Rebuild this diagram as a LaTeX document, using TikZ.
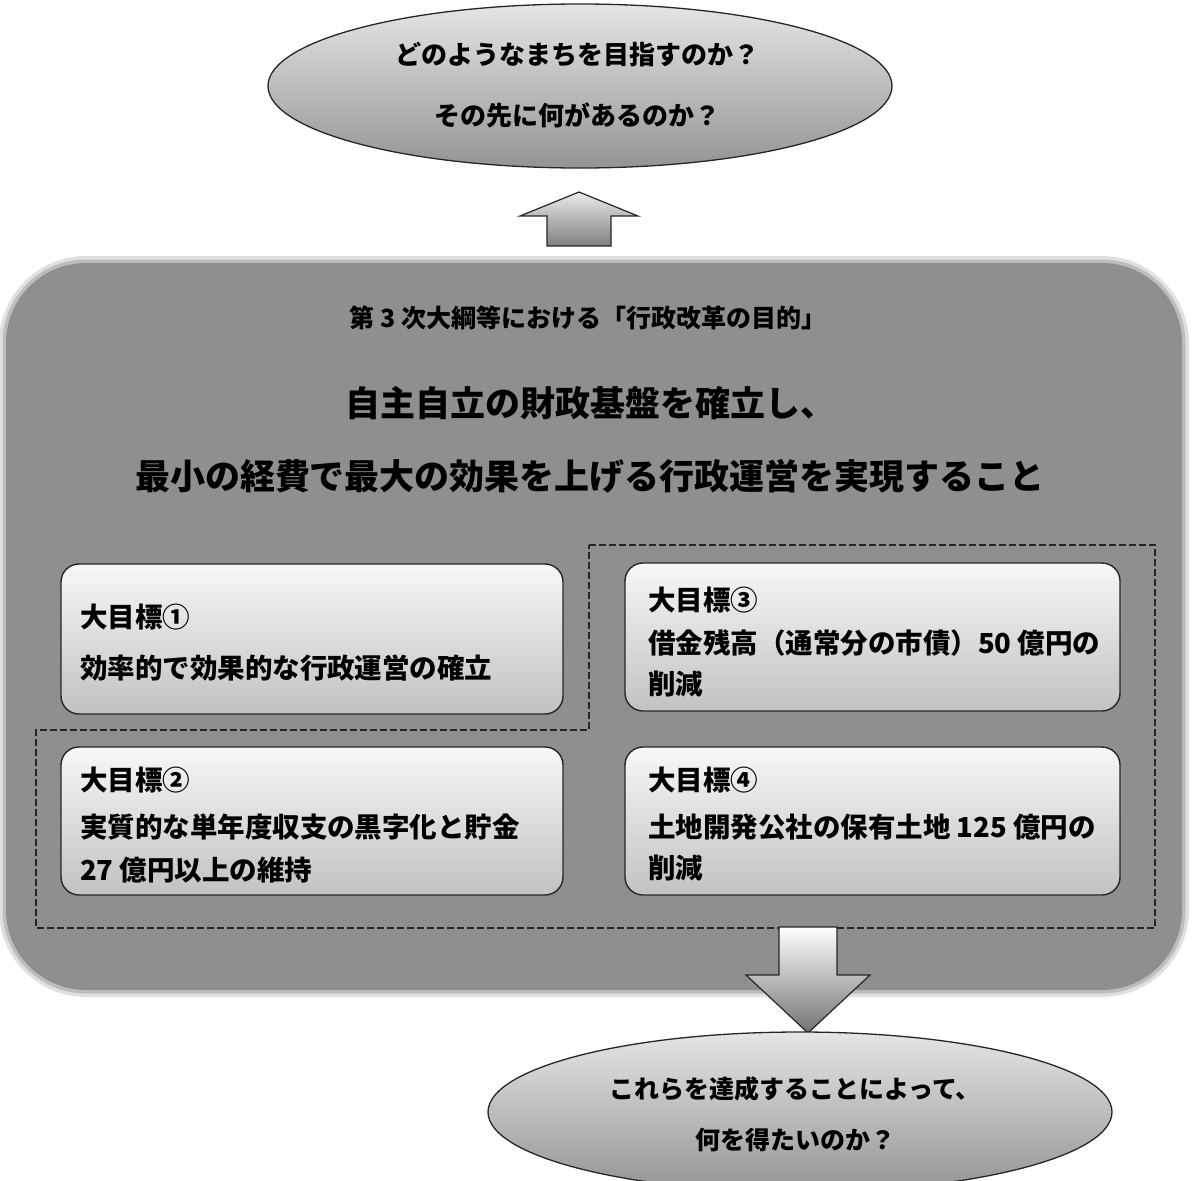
\documentclass[tikz,border=0pt]{standalone}
\usepackage{fontspec}
\newfontfamily\jp{Noto Sans CJK JP}
\usetikzlibrary{shapes.geometric}
\begin{document}
\begin{tikzpicture}[x=1pt,y=-1pt,
  every node/.style={font=\jp, inner sep=0pt, outer sep=0pt},
  bubble/.style={ellipse, draw=black!85, line width=1.3pt, top color=black!10, bottom color=black!42, minimum width=624pt, minimum height=164pt},
  bigbox/.style={rectangle, rounded corners=80pt, fill=black!44, minimum width=1176pt, minimum height=727pt},
  goalbox/.style={rectangle, rounded corners=18pt, draw=black!85, line width=1.4pt, top color=black!3, bottom color=black!24},
  blockarrow/.style={draw=black!85, line width=1.2pt, top color=black!8, bottom color=black!50},
  bubbletxt/.style={font=\jp\bfseries\fontsize{26}{30}\selectfont},
  subtxt/.style={font=\jp\bfseries\fontsize{25}{30}\selectfont},
  maintxt/.style={font=\jp\bfseries\fontsize{35}{40}\selectfont},
  goaltxt/.style={font=\jp\bfseries\fontsize{27.5}{32}\selectfont, anchor=west},
  frameline/.style={dashed, dash pattern=on 7pt off 3pt, line width=1.3pt, draw=black!85}
]
\useasboundingbox (0,0) rectangle (1195,1181);

% big rounded panel with soft edge
\draw[line width=14pt, black!12, rounded corners=80pt] (6,263) rectangle (1182,990);
\draw[line width=7pt, black!26, rounded corners=80pt] (6,263) rectangle (1182,990);
\node[bigbox] (panel) at (594,626.5) {};

% dashed frame around the goals
\draw[frameline] (589,545) -- (1155,545) -- (1155,928) -- (36,928) -- (36,730) -- (589,730) -- cycle;

% header texts
\node[subtxt] (sub) at (588,318) {第 3 次大綱等における「行政改革の目的」};
\node[maintxt] (m1) at (590,403) {自主自立の財政基盤を確立し、};
\node[maintxt] (m2) at (590,476) {最小の経費で最大の効果を上げる行政運営を実現すること};

% goal boxes
\node[goalbox, minimum width=502pt, minimum height=150pt] (g1) at (312,639) {};
\node[goalbox, minimum width=502pt, minimum height=148pt] (g2) at (312,821) {};
\node[goalbox, minimum width=495pt, minimum height=148pt] (g3) at (872.5,637) {};
\node[goalbox, minimum width=495pt, minimum height=148pt] (g4) at (872.5,821) {};

\node[goaltxt] (g1a) at (80,617) {大目標①};
\node[goaltxt] (g1b) at (80,668) {効率的で効果的な行政運営の確立};
\node[goaltxt] (g2a) at (80,780) {大目標②};
\node[goaltxt] (g2b) at (80,827) {実質的な単年度収支の黒字化と貯金};
\node[goaltxt] (g2c) at (80,870) {27 億円以上の維持};
\node[goaltxt] (g3a) at (648,600) {大目標③};
\node[goaltxt] (g3b) at (648,643) {借金残高（通常分の市債）50 億円の};
\node[goaltxt] (g3c) at (648,684) {削減};
\node[goaltxt] (g4a) at (648,780) {大目標④};
\node[goaltxt] (g4b) at (648,827) {土地開発公社の保有土地 125 億円の};
\node[goaltxt] (g4c) at (648,868) {削減};

% block arrows
\draw[blockarrow] (547,246) -- (547,216) -- (520,216) -- (579,192) -- (638,216) -- (611,216) -- (611,246) -- cycle;
\draw[blockarrow, top color=white, bottom color=black!55] (779,927) -- (837,927) -- (837,975) -- (870,975) -- (808,1033) -- (746,975) -- (779,975) -- cycle;

% ellipses
\node[bubble] (top) at (580,86) {};
\node[bubbletxt] (t1) at (577,55) {どのようなまちを目指すのか？};
\node[bubbletxt] (t2) at (577,115) {その先に何があるのか？};

\node[bubble, minimum height=160pt] (bot) at (800,1112) {};
\node[bubbletxt, font=\jp\bfseries\fontsize{25}{30}\selectfont] (b1) at (795,1089) {これらを達成することによって、};
\node[bubbletxt, font=\jp\bfseries\fontsize{25}{30}\selectfont] (b2) at (795,1140) {何を得たいのか？};
\end{tikzpicture}
\end{document}
